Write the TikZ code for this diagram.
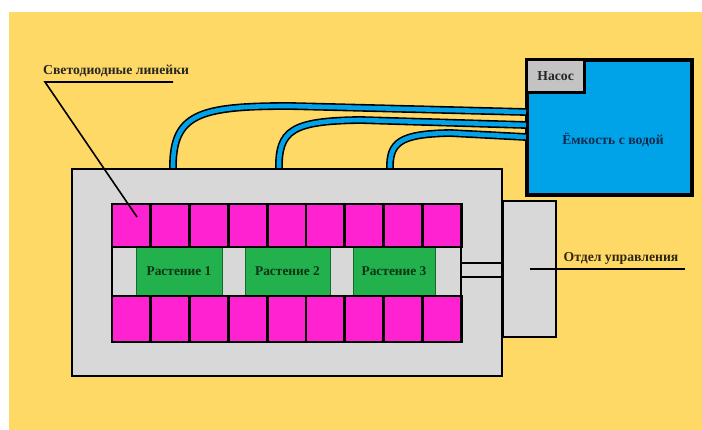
\documentclass[tikz,border=0pt]{standalone}
\usepackage{fontspec}
\setmainfont{Liberation Serif}
\usepackage{tikz}
\usetikzlibrary{positioning,calc}

\definecolor{bgyellow}{RGB}{255,217,102}
\definecolor{boxgrey}{RGB}{216,216,216}
\definecolor{pumpgrey}{RGB}{195,195,195}
\definecolor{ledpink}{RGB}{255,34,208}
\definecolor{plantgreen}{RGB}{34,177,76}
\definecolor{waterblue}{RGB}{0,162,232}
\definecolor{plantink}{RGB}{12,52,22}
\definecolor{waterink}{RGB}{14,44,78}
\definecolor{labelink}{RGB}{45,38,20}

\tikzset{
  frame/.style={draw=black, line width=2.8pt, fill=boxgrey, inner sep=0pt},
  ledcell/.style={draw=black, line width=2.8pt, fill=ledpink, minimum width=38.8pt, inner sep=0pt},
  plant/.style={fill=plantgreen, draw=plantgreen!60!black, line width=0.6pt, minimum height=48pt, inner sep=0pt,
    font=\fontsize{13.4}{15}\selectfont\bfseries, text=plantink},
  lbl/.style={font=\fontsize{13.7}{15}\selectfont\bfseries, inner sep=0pt},
  leader/.style={draw=black, line width=1.6pt},
  wire/.style={draw=black, line width=2.4pt},
  hose/.style={draw=black, line width=1.6pt, double=waterblue, double distance=4.6pt}
}

\begin{document}
\begin{tikzpicture}[x=1pt,y=-1pt]
  % Background
  \useasboundingbox (0,0) rectangle (702,430);
  \fill[white] (0,0) rectangle (702,430);
  \fill[bgyellow] (9,12) rectangle (702,430);
  % Water tank and pump
  \node[draw=black, line width=3.2pt, fill=waterblue, minimum width=165pt, minimum height=135pt] (tank) at (609.5,127.5) {};
  \node[draw=black, line width=2.4pt, fill=pumpgrey, minimum width=58pt, minimum height=33pt, anchor=north west] (pump) at (tank.north west) {};
  \node[lbl, text=black!85] (pumplabel) at (pump.center) {Насос};
  \node[lbl, text=waterink] (tanklabel) at (613,140) {Ёмкость с водой};
  % Hoses from the tank to the growing box
  \coordinate (hoseA) at (173,170);
  \coordinate (hoseB) at (279,170);
  \coordinate (hoseC) at (390,170);
  \coordinate (inA) at (526,112);
  \coordinate (inB) at (526,125);
  \coordinate (inC) at (526,137);
  \draw[hose] (hoseA) .. controls (172,114) and (198,106) .. (290,106) -- (inA);
  \draw[hose] (hoseB) .. controls (278,130) and (292,121) .. (360,120) -- (inB);
  \draw[hose] (hoseC) .. controls (389,142) and (400,134) .. (450,133) -- (inC);
  % Growing box
  \node[frame, minimum width=430pt, minimum height=207pt] (box) at (287,272.5) {};
  % Middle row with the plants
  \node[frame, minimum width=349pt, minimum height=49pt] (row) at (286.5,271.5) {};
  \node[plant, minimum width=86pt] (plant1) at (179,271.5) {Растение 1};
  \node[plant, minimum width=85pt] (plant2) at (287.5,271.5) {Растение 2};
  \node[plant, minimum width=82pt] (plant3) at (394,271.5) {Растение 3};
  % LED strips
  \foreach \i in {1,...,9} {
    \node[ledcell, minimum height=43pt] (top-\i) at ({112+38.8*(\i-0.5)},225.5) {};
    \node[ledcell, minimum height=46pt] (bot-\i) at ({112+38.8*(\i-0.5)},319) {};
  }
  % Control unit
  \node[frame, minimum width=53pt, minimum height=136pt] (ctrl) at (529.5,269) {};
  \draw[wire] ([yshift=8.5pt]row.east) -- ([yshift=8.5pt]row.east -| ctrl.west);
  \draw[wire] ([yshift=-5.5pt]row.east) -- ([yshift=-5.5pt]row.east -| ctrl.west);
  % Labels
  \node[lbl, text=black!85, anchor=south west] (ledlabel) at (43,77) {Светодиодные линейки};
  \coordinate (ledA) at (45,82);
  \coordinate (ledB) at (173,82);
  \coordinate (ledtip) at (137,217);
  \draw[leader] (ledB) -- (ledA) -- (ledtip);
  \node[lbl, text=labelink] (ctrllabel) at (621,258) {Отдел управления};
  \coordinate (ctrlB) at (685,269);
  \draw[leader] (ctrl.center) -- (ctrlB);
\end{tikzpicture}
\end{document}
